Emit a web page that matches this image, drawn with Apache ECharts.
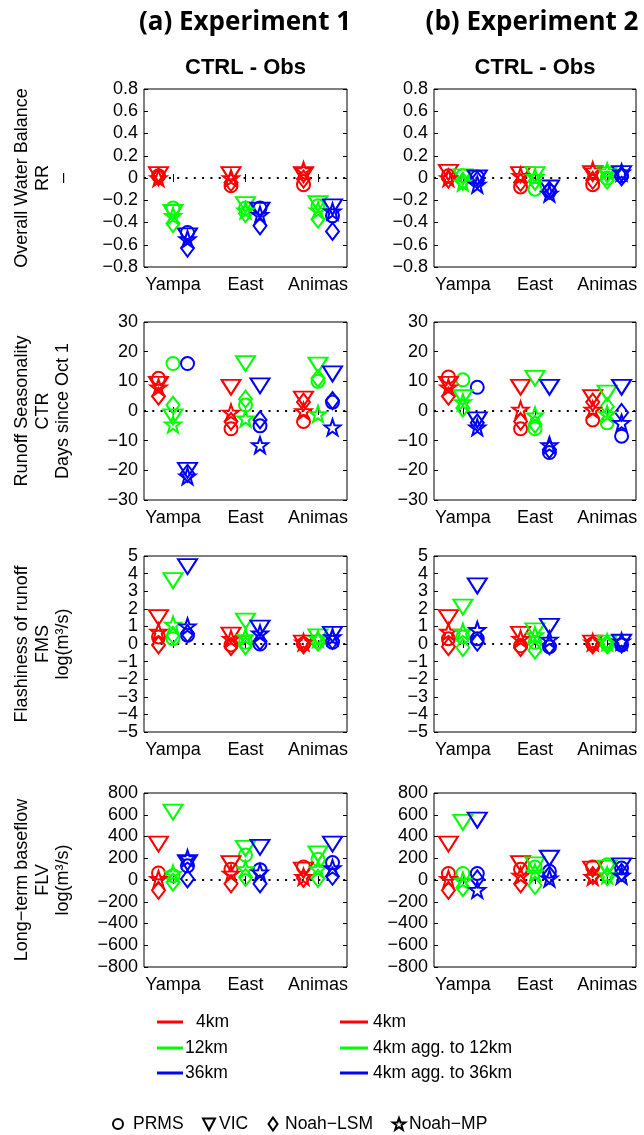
<!DOCTYPE html>
<html>
<head>
<meta charset="utf-8">
<script src="https://cdn.jsdelivr.net/npm/echarts@6/dist/echarts.min.js"></script>
<style>
  html, body { margin: 0; padding: 0; background: #fff; }
  #chart { width: 644px; height: 1135px; }
</style>
</head>
<body>
<div id="chart"></div>
<script>
// Basins on the x axis
const basins = ['Yampa', 'East', 'Animas'];
const models = ['PRMS', 'VIC', 'Noah−LSM', 'Noah−MP'];

// Tick values of each metric's y axis
const rrTicks = [-0.8, -0.6, -0.4, -0.2, 0, 0.2, 0.4, 0.6, 0.8];
const ctrTicks = [-30, -20, -10, 0, 10, 20, 30];
const fmsTicks = [-5, -4, -3, -2, -1, 0, 1, 2, 3, 4, 5];
const flvTicks = [-800, -600, -400, -200, 0, 200, 400, 600, 800];

// CTRL - Obs differences; each array is ordered
// [Yampa 4/12/36km, East 4/12/36km, Animas 4/12/36km]

// Overall water balance (RR), experiment 1
const rr1Prms = [0.02, -0.27, -0.49, -0.07, -0.27, -0.27, -0.06, -0.25, -0.34];
const rr1Vic  = [0.03, -0.31, -0.52, 0.03, -0.24, -0.29, 0.03, -0.23, -0.26];
const rr1Lsm  = [0.01, -0.41, -0.63, -0.04, -0.32, -0.43, -0.01, -0.37, -0.48];
const rr1Mp   = [0.00, -0.34, -0.55, 0.00, -0.29, -0.33, 0.07, -0.29, -0.30];
// Overall water balance (RR), experiment 2
const rr2Prms = [0.02, 0.02, 0.01, -0.08, -0.10, -0.12, -0.06, 0.00, 0.02];
const rr2Vic  = [0.05, 0.01, 0.00, 0.03, 0.03, -0.09, 0.04, 0.03, 0.04];
const rr2Lsm  = [-0.01, -0.03, -0.02, -0.04, -0.03, -0.11, -0.02, -0.02, 0.01];
const rr2Mp   = [0.00, -0.04, -0.06, 0.02, 0.01, -0.14, 0.07, 0.06, 0.05];

// Runoff seasonality (CTR), experiment 1
const ctr1Prms = [11, 16, 16, -6, 2, -5, -3.5, 10, 3];
const ctr1Vic  = [9, -2, -20, 8, 16, 8.5, 4, 15.5, 12.5];
const ctr1Lsm  = [5, 2, -21, -3.5, 4, -3, 3, 11, 3.5];
const ctr1Mp   = [8, -4.5, -22, -0.5, -2.5, -11.5, 0, -1, -5.5];
// Runoff seasonality (CTR), experiment 2
const ctr2Prms = [11.5, 10.5, 8, -6, -6, -14, -3, -4, -8.5];
const ctr2Vic  = [9, 4.5, -3, 8, 11, 8, 4.5, 6, 8];
const ctr2Lsm  = [5, 1, -4, -3.5, -4.5, -13, 3, 1.5, -0.5];
const ctr2Mp   = [8, 3, -5.5, 0.5, -1.5, -11.5, 0.5, -1, -4];

// Flashiness of runoff (FMS), experiment 1
const fms1Prms = [0.4, 0.3, 0.5, -0.05, 0.1, 0.0, 0.0, 0.15, 0.1];
const fms1Vic  = [1.5, 3.6, 4.4, 0.5, 1.3, 0.9, 0.05, 0.4, 0.55];
const fms1Lsm  = [-0.05, 0.5, 0.6, -0.15, -0.1, 0.15, -0.05, 0.1, 0.2];
const fms1Mp   = [0.7, 1.1, 1.0, 0.3, 0.4, 0.6, 0.1, 0.3, 0.4];
// Flashiness of runoff (FMS), experiment 2
const fms2Prms = [0.3, 0.4, 0.3, -0.1, 0.1, -0.15, 0.0, 0.0, -0.05];
const fms2Vic  = [1.5, 2.1, 3.3, 0.55, 0.75, 1.0, 0.05, 0.05, 0.1];
const fms2Lsm  = [-0.15, -0.2, 0.1, -0.2, -0.35, -0.1, -0.05, -0.05, 0.0];
const fms2Mp   = [0.7, 0.7, 0.8, 0.3, 0.5, 0.25, 0.1, 0.1, 0.15];

// Long-term baseflow (FLV), experiment 1
const flv1Prms = [65, 40, 130, 100, 230, 95, 120, 190, 160];
const flv1Vic  = [330, 625, 160, 150, 290, 300, 90, 240, 330];
const flv1Lsm  = [-95, -20, 10, -35, 25, -35, 15, 15, 35];
const flv1Mp   = [10, 60, 200, 60, 100, 70, 30, 100, 110];
// Long-term baseflow (FLV), experiment 2
const flv2Prms = [60, 60, 60, 100, 120, 80, 120, 140, 110];
const flv2Vic  = [330, 530, 550, 150, 140, 200, 100, 110, 130];
const flv2Lsm  = [-95, -70, 10, -35, -50, 45, 40, 30, 70];
const flv2Mp   = [10, -5, -90, 40, 70, 15, 30, 45, 40];

// ---------------------------------------------------------------------------
const resColors = ['#ff0000', '#00ff00', '#0000ff'];
const resOffsets = [-0.2, 0, 0.2];
const FONT = '"Liberation Sans", Arial, Helvetica, sans-serif';

// outlined five-point star, like a pentagram marker
const starPath = (function () {
  let d = '';
  for (let i = 0; i < 10; i++) {
    const r = i % 2 ? 0.4 : 1;
    const a = -Math.PI / 2 + i * Math.PI / 5;
    d += (i ? 'L' : 'M') + (r * Math.cos(a)).toFixed(4) + ',' + (r * Math.sin(a)).toFixed(4);
  }
  return 'path://' + d + 'Z';
})();

const modelSymbols = [
  { symbol: 'circle', size: 13 },
  { symbol: 'path://M0,0L20,0L10,16Z', size: [19, 15] },
  { symbol: 'diamond', size: [13, 17] },
  { symbol: starPath, size: 16 }
];

const columns = [
  { left: 144, width: 203 },
  { left: 434, width: 202 }
];
const rows = [
  { top: 89, height: 178 },
  { top: 322, height: 178 },
  { top: 556, height: 176 },
  { top: 793, height: 174 }
];

const panels = [
  { row: 0, col: 0, ticks: rrTicks, sets: [rr1Prms, rr1Vic, rr1Lsm, rr1Mp] },
  { row: 0, col: 1, ticks: rrTicks, sets: [rr2Prms, rr2Vic, rr2Lsm, rr2Mp] },
  { row: 1, col: 0, ticks: ctrTicks, sets: [ctr1Prms, ctr1Vic, ctr1Lsm, ctr1Mp] },
  { row: 1, col: 1, ticks: ctrTicks, sets: [ctr2Prms, ctr2Vic, ctr2Lsm, ctr2Mp] },
  { row: 2, col: 0, ticks: fmsTicks, sets: [fms1Prms, fms1Vic, fms1Lsm, fms1Mp] },
  { row: 2, col: 1, ticks: fmsTicks, sets: [fms2Prms, fms2Vic, fms2Lsm, fms2Mp] },
  { row: 3, col: 0, ticks: flvTicks, sets: [flv1Prms, flv1Vic, flv1Lsm, flv1Mp] },
  { row: 3, col: 1, ticks: flvTicks, sets: [flv2Prms, flv2Vic, flv2Lsm, flv2Mp] }
];

const yNames = [
  'Overall Water Balance\nRR\n–',
  'Runoff Seasonality\nCTR\nDays since Oct 1',
  'Flashiness of runoff\nFMS\nlog(m³/s)',
  'Long−term baseflow\nFLV\nlog(m³/s)'
];

const basinTicks = basins.map((b, i) => i + 1);
const fmtTick = v => String(+v.toFixed(2)).replace('-', '−');

const grids = [], xAxes = [], yAxes = [], series = [];

panels.forEach((p, i) => {
  const c = columns[p.col], r = rows[p.row];
  grids.push({
    left: c.left, top: r.top, width: c.width, height: r.height,
    show: true, borderColor: '#000', borderWidth: 1, backgroundColor: 'transparent',
    containLabel: false, outerBoundsMode: 'none'
  });
  const tickStyle = { show: true, inside: true, length: 4, lineStyle: { color: '#000', width: 1 } };
  // bottom axis with basin names
  xAxes.push({
    gridIndex: i, type: 'value', min: 0.6, max: 3.4, position: 'bottom',
    axisLine: { show: false }, splitLine: { show: false },
    axisTick: Object.assign({ customValues: basinTicks }, tickStyle),
    axisLabel: {
      customValues: basinTicks, formatter: v => basins[Math.round(v) - 1],
      color: '#000', fontSize: 18, fontFamily: FONT, margin: 9,
      showMinLabel: true, showMaxLabel: true, hideOverlap: false
    }
  });
  // top axis, ticks only
  xAxes.push({
    gridIndex: i, type: 'value', min: 0.6, max: 3.4, position: 'top',
    axisLine: { show: false }, splitLine: { show: false },
    axisTick: Object.assign({ customValues: basinTicks }, tickStyle),
    axisLabel: { show: false }
  });
  const ymin = p.ticks[0], ymax = p.ticks[p.ticks.length - 1];
  // tick labels are split over two left axes (alternate ticks) so that
  // tightly packed labels are never dropped as overlapping
  const evenTicks = p.ticks.filter((t, k) => k % 2 === 0);
  const oddTicks = p.ticks.filter((t, k) => k % 2 === 1);
  [evenTicks, oddTicks].forEach((labelTicks, half) => {
    yAxes.push({
      gridIndex: i, type: 'value', min: ymin, max: ymax, position: 'left',
      axisLine: { show: false }, splitLine: { show: false },
      axisTick: half === 0 ? Object.assign({ customValues: p.ticks }, tickStyle) : { show: false },
      axisLabel: {
        customValues: labelTicks, formatter: fmtTick,
        color: '#000', fontSize: 18, fontFamily: FONT, margin: 6,
        showMinLabel: true, showMaxLabel: true, hideOverlap: false
      }
    });
  });
  yAxes.push({
    gridIndex: i, type: 'value', min: ymin, max: ymax, position: 'right',
    axisLine: { show: false }, splitLine: { show: false },
    axisTick: Object.assign({ customValues: p.ticks }, tickStyle),
    axisLabel: { show: false }
  });

  p.sets.forEach((vals, m) => {
    const s = {
      type: 'scatter', name: models[m],
      xAxisIndex: 2 * i, yAxisIndex: 3 * i,
      symbol: modelSymbols[m].symbol, symbolSize: modelSymbols[m].size,
      silent: true, z: 3,
      itemStyle: { color: 'transparent', borderWidth: 2, opacity: 1 },
      data: vals.map((v, k) => ({
        value: [Math.floor(k / 3) + 1 + resOffsets[k % 3], v],
        itemStyle: { borderColor: resColors[k % 3] }
      }))
    };
    if (m === 0) {
      s.markLine = {
        silent: true, symbol: ['none', 'none'], label: { show: false },
        lineStyle: { color: '#000', width: 2, type: [2, 6.3] },
        data: [{ yAxis: 0 }], z: 1, animation: false
      };
    }
    series.push(s);
  });
});

// titles, y-axis names and legends
const graphics = [];
const textEl = (x, y, text, font, align, extra) => Object.assign({
  type: 'text', x: x, y: y, silent: true,
  style: {
    text: text, font: font, fill: '#000',
    textAlign: align, align: align,
    textVerticalAlign: 'middle', verticalAlign: 'middle'
  }
}, extra || {});

graphics.push(textEl(245, 23, '(a) Experiment 1', 'bold 26px "Open Sans", sans-serif', 'center'));
graphics.push(textEl(532, 23, '(b) Experiment 2', 'bold 26px "Open Sans", sans-serif', 'center'));
columns.forEach(c => {
  graphics.push(textEl(c.left + c.width / 2, 68, 'CTRL - Obs', 'bold 22px ' + FONT, 'center'));
});
rows.forEach((r, i) => {
  const el = textEl(43, r.top + r.height / 2, yNames[i], '18px ' + FONT, 'center', { rotation: Math.PI / 2 });
  el.style.lineHeight = 20.5;
  graphics.push(el);
});

// resolution legends (line + label)
const legendRowsY = [1022, 1048, 1073];
const legendCols = [
  { x1: 157, x2: 183, tx: [196, 185, 185], labels: ['4km', '12km', '36km'] },
  { x1: 340, x2: 368, tx: [373, 373, 373], labels: ['4km', '4km agg. to 12km', '4km agg. to 36km'] }
];
legendCols.forEach(lc => {
  legendRowsY.forEach((y, k) => {
    graphics.push({
      type: 'line', silent: true,
      shape: { x1: lc.x1, y1: y, x2: lc.x2, y2: y },
      style: { stroke: resColors[k], lineWidth: 3 }
    });
    graphics.push(textEl(lc.tx[k], y, lc.labels[k], '17.5px ' + FONT, 'left'));
  });
});

// model symbol legend
const ly = 1124;
const keyStroke = { fill: 'none', stroke: '#000', lineWidth: 2 };
graphics.push({ type: 'circle', silent: true, shape: { cx: 118, cy: ly, r: 5 }, style: keyStroke });
graphics.push({ type: 'polygon', silent: true, shape: { points: [[203, ly - 5.5], [215, ly - 5.5], [209, ly + 6]] }, style: keyStroke });
graphics.push({ type: 'polygon', silent: true, shape: { points: [[273, ly - 6.5], [277.5, ly], [273, ly + 6.5], [268.5, ly]] }, style: keyStroke });
const starPts = [];
for (let i = 0; i < 10; i++) {
  const rr = i % 2 ? 2.6 : 6.5;
  const a = -Math.PI / 2 + i * Math.PI / 5;
  starPts.push([399 + rr * Math.cos(a), ly + 0.5 + rr * Math.sin(a)]);
}
graphics.push({ type: 'polygon', silent: true, shape: { points: starPts }, style: keyStroke });
const keyLabels = [[133, models[0]], [219, models[1]], [285, models[2]], [409, models[3]]];
keyLabels.forEach(k => graphics.push(textEl(k[0], ly, k[1], '17.5px ' + FONT, 'left')));

const chart = echarts.init(document.getElementById('chart'), null, { renderer: 'canvas' });
chart.setOption({
  backgroundColor: '#fff',
  animation: false,
  grid: grids,
  xAxis: xAxes,
  yAxis: yAxes,
  series: series,
  graphic: { elements: graphics }
});
</script>
</body>
</html>
